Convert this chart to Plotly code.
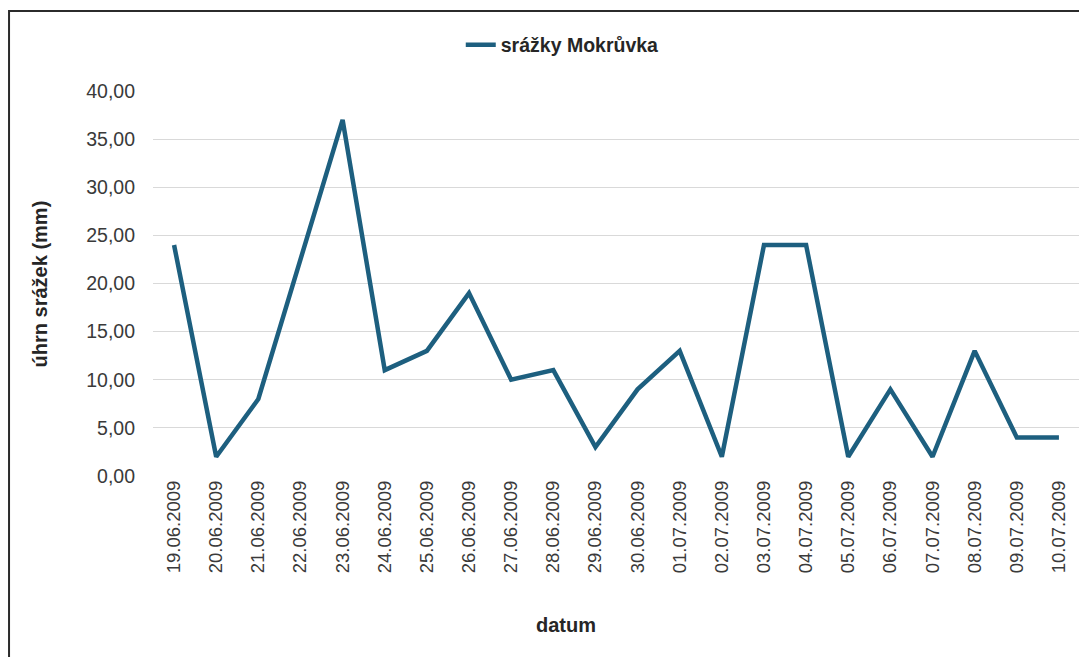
import plotly.graph_objects as go

dates = ["19.06.2009", "20.06.2009", "21.06.2009", "22.06.2009", "23.06.2009",
         "24.06.2009", "25.06.2009", "26.06.2009", "27.06.2009", "28.06.2009",
         "29.06.2009", "30.06.2009", "01.07.2009", "02.07.2009", "03.07.2009",
         "04.07.2009", "05.07.2009", "06.07.2009", "07.07.2009", "08.07.2009",
         "09.07.2009", "10.07.2009"]
srazky = [24, 2, 8, 22.5, 37, 11, 13, 19, 10, 11, 3, 9, 13, 2, 24, 24, 2, 9, 2, 13, 4, 4]
series_name = "srážky Mokrůvka"
y_title = "úhrn srážek (mm)"
x_title = "datum"

LINE = "#1d5f7f"
FONT = "Liberation Sans, Arial, sans-serif"

fig = go.Figure()
fig.add_trace(go.Scatter(
    x=dates, y=srazky, mode="lines", name=series_name,
    line=dict(color=LINE, width=4.5, shape="linear"),
))

fig.update_layout(
    width=1079, height=649,
    margin=dict(l=145, r=7, t=83, b=181, pad=0),
    paper_bgcolor="white", plot_bgcolor="white",
    separators=", ",
    font=dict(family=FONT, color="#3a3a3a"),
    showlegend=True,
    legend=dict(orientation="h", x=0.332, xanchor="left", y=1.119, yanchor="middle",
                font=dict(size=19.5, color="#262626", family=FONT, weight="bold"),
                bgcolor="rgba(0,0,0,0)"),
    xaxis=dict(type="category", tickangle=-90, showgrid=False, zeroline=False,
               showline=False, ticks="", tickfont=dict(size=18.5, color="#3a3a3a"),
               range=[-0.5, len(dates) - 0.5]),
    yaxis=dict(range=[0, 40], dtick=5, tickformat=".2f", showgrid=True,
               gridcolor="#d9d9d9", gridwidth=1, zeroline=False, showline=False,
               ticks="", ticklabelstandoff=17,
               tickfont=dict(size=19.5, color="#3a3a3a")),
    annotations=[
        dict(text="<b>" + y_title + "</b>", xref="paper", yref="paper",
             x=-0.122, y=0.5, textangle=-90, showarrow=False,
             font=dict(size=20, color="#262626"), xanchor="center", yanchor="middle"),
        dict(text="<b>" + x_title + "</b>", xref="paper", yref="paper",
             x=0.4455, y=-0.387, showarrow=False,
             font=dict(size=20, color="#262626"), xanchor="center", yanchor="middle"),
    ],
    shapes=[
        dict(type="rect", xref="paper", yref="paper", x0=-0.1553, y0=-0.6, x1=1.03, y1=1.2078,
             line=dict(color="#2b2b2b", width=2), fillcolor="rgba(0,0,0,0)", layer="above"),
    ],
)

fig.write_html("out.html")
